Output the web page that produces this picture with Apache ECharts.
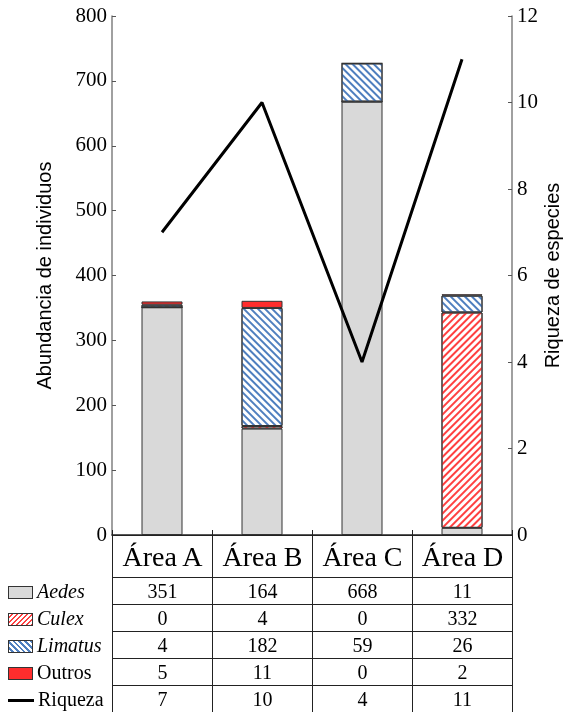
<!DOCTYPE html>
<html><head><meta charset="utf-8">
<script src="https://cdn.jsdelivr.net/npm/echarts@6/dist/echarts.min.js"></script>
<style>
html,body{margin:0;padding:0;background:#fff;}
#wrap{position:relative;width:566px;height:712px;}
#chart{position:absolute;left:0;top:0;width:566px;height:712px;}
#tbl{position:absolute;left:0;top:535px;border-collapse:collapse;font-family:'Liberation Serif','Times New Roman',serif;color:#000;}
#tbl td{padding:0;text-align:center;}
#tbl td.c{border:1.5px solid #222;width:99px;}
#tbl tr.h td.c{height:41px;font-size:28px;}
#tbl tr.r td.c{height:26px;font-size:20px;}
#tbl td.lg{width:112px;text-align:left;font-size:20px;white-space:nowrap;border:none;}
.pt{display:inline-block;width:25px;height:13px;border:1px solid #333;vertical-align:middle;margin:0 4px 0 8px;box-sizing:border-box;}
.ln{display:inline-block;width:26px;height:3px;background:#000;vertical-align:middle;margin:0 4px 0 8px;}
</style></head>
<body><div id="wrap"><div id="chart"></div><table id="tbl"></table></div>
<script>
var categories = ['Área A','Área B','Área C','Área D'];
var aedes = [351,164,668,11];
var culex = [0,4,0,332];
var limatus = [4,182,59,26];
var outros = [5,11,0,2];
var riqueza = [7,10,4,11];
var leftTicks = [0,100,200,300,400,500,600,700,800];
var rightTicks = [0,2,4,6,8,10,12];

var serif = 'Liberation Serif';
var sans = 'Liberation Sans';
var gridL = 112, gridR = 54, W = 566;
var border = {borderColor:'#333',borderWidth:1};
var option = {
  animation:false,
  grid:{left:gridL,right:gridR,top:16,bottom:177,containLabel:false,outerBoundsMode:'none'},
  xAxis:{type:'category',data:categories,
    axisLine:{show:true,lineStyle:{color:'#222',width:1.5}},
    axisTick:{show:true,inside:true,length:5,lineStyle:{color:'#222'}},
    axisLabel:{show:false}},
  yAxis:[
    {type:'value',min:leftTicks[0],max:leftTicks[leftTicks.length-1],interval:100,
     splitLine:{show:false},
     axisLine:{show:true,lineStyle:{color:'#808080',width:1.5}},
     axisTick:{show:true,inside:true,length:4,lineStyle:{color:'#555'}},
     axisLabel:{show:false,fontFamily:serif,fontSize:21,color:'#000',margin:5},
     name:'Abundancia de individuos',nameLocation:'middle',nameGap:57,nameRotate:90,nameMoveOverlap:false,
     nameTextStyle:{fontFamily:sans,fontSize:20,color:'#000'}},
    {type:'value',min:rightTicks[0],max:rightTicks[rightTicks.length-1],interval:2,
     splitLine:{show:false},
     axisLine:{show:true,lineStyle:{color:'#808080',width:1.5}},
     axisTick:{show:true,inside:true,length:4,lineStyle:{color:'#555'}},
     axisLabel:{show:false,fontFamily:serif,fontSize:21,color:'#000',margin:5},
     name:'Riqueza de especies',nameLocation:'middle',nameGap:31,nameRotate:90,nameMoveOverlap:false,
     nameTextStyle:{fontFamily:sans,fontSize:20,color:'#000'}}
  ],
  series:[
    {name:'Aedes',type:'bar',stack:'a',barWidth:41,data:aedes,
     itemStyle:Object.assign({color:'#d9d9d9'},border)},
    {name:'Culex',type:'bar',stack:'a',barWidth:41,data:culex,
     itemStyle:Object.assign({color:'#ffffff',decal:{symbol:'rect',dashArrayX:[1,0],dashArrayY:[1.2,2.8],rotation:-Math.PI/4,color:'#ff4040'}},border)},
    {name:'Limatus',type:'bar',stack:'a',barWidth:41,data:limatus,
     itemStyle:Object.assign({color:'#ffffff',decal:{symbol:'rect',dashArrayX:[1,0],dashArrayY:[2,2.5],rotation:Math.PI/4,color:'#4f7fbf'}},border)},
    {name:'Outros',type:'bar',stack:'a',barWidth:41,data:outros,
     itemStyle:Object.assign({color:'#ff2d2d'},border)},
    {name:'Riqueza',type:'line',yAxisIndex:1,data:riqueza,symbol:'none',
     lineStyle:{color:'#000',width:3}}
  ]
};
var chart = echarts.init(document.getElementById('chart'));
chart.setOption(option);

// serif tick labels placed through the axes' own scales (via series on each axis)
function yPix(seriesIndex, v){
  var p = chart.convertToPixel({seriesIndex:seriesIndex}, [categories[0], v]);
  return p ? p[1] : NaN;
}
var ok = true;
var g = [];
leftTicks.forEach(function(v){
  var py = yPix(0, v);
  if (!isFinite(py)) ok = false;
  g.push({type:'text',x:gridL-5,y:py,silent:true,
    style:{text:String(v),font:'21px "Liberation Serif"',fill:'#000',align:'right',verticalAlign:'middle'}});
});
rightTicks.forEach(function(v){
  var py = yPix(4, v);
  if (!isFinite(py)) ok = false;
  g.push({type:'text',x:W-gridR+5,y:py,silent:true,
    style:{text:String(v),font:'21px "Liberation Serif"',fill:'#000',align:'left',verticalAlign:'middle'}});
});
if (ok) {
  chart.setOption({graphic:g});
} else {
  chart.setOption({yAxis:[{axisLabel:{show:true}},{axisLabel:{show:true}}]});
}

// table
var tbl = document.getElementById('tbl');
var rows = [
  {label:'Aedes',italic:true,patch:'background:#d9d9d9;',vals:aedes},
  {label:'Culex',italic:true,patch:'background:repeating-linear-gradient(135deg,#fff 0 2px,#ff4040 2px 3.5px);',vals:culex},
  {label:'Limatus',italic:true,patch:'background:repeating-linear-gradient(45deg,#fff 0 2px,#4f7fbf 2px 4px);',vals:limatus},
  {label:'Outros',italic:false,patch:'background:#ff2d2d;',vals:outros},
  {label:'Riqueza',italic:false,line:true,vals:riqueza}
];
var html = '<tr class="h"><td class="lg"></td>';
categories.forEach(function(c){html+='<td class="c">'+c+'</td>';});
html += '</tr>';
rows.forEach(function(r){
  html += '<tr class="r"><td class="lg">'+(r.line?'<span class="ln"></span>':'<span class="pt" style="'+r.patch+'"></span>')+
    '<span style="'+(r.italic?'font-style:italic;':'')+'">'+r.label+'</span></td>';
  r.vals.forEach(function(v){html+='<td class="c">'+v+'</td>';});
  html += '</tr>';
});
tbl.innerHTML = html;
</script></body></html>
